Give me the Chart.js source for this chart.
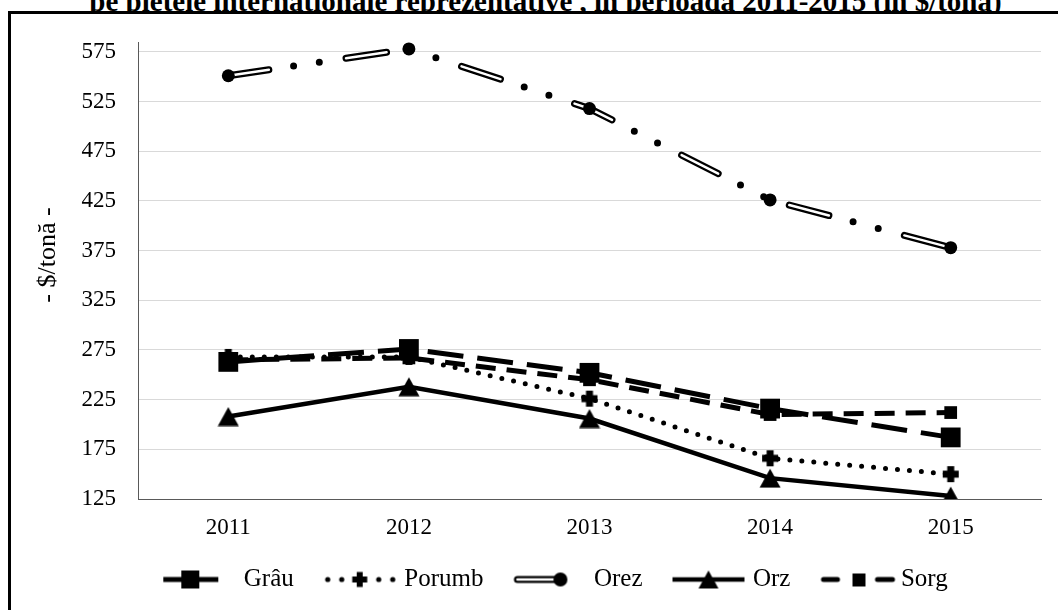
<!DOCTYPE html>
<html><head><meta charset="utf-8">
<script src="https://cdn.jsdelivr.net/npm/chart.js@4.4.0/dist/chart.umd.min.js"></script>
<style>
html,body{margin:0;padding:0;background:#fff;width:1058px;height:610px;overflow:hidden;}
#title{position:absolute;left:0;width:1091px;top:-13px;text-align:center;font:bold 29px "Liberation Serif",serif;line-height:29px;white-space:nowrap;color:#000;z-index:1;}
#box{position:absolute;left:8px;top:11px;width:1100px;height:700px;border-left:3px solid #000;border-top:3px solid #000;background:#fff;z-index:2;}
#wrap{position:absolute;left:0;top:0;width:1058px;height:610px;z-index:3;}
</style></head><body>
<div id="title">pe piețele internaționale reprezentative , în perioada 2011-2015 (în $/tonă)</div>
<div id="box"></div>
<div id="wrap"><canvas id="c" width="1058" height="610"></canvas></div>
<script>
const years = ['2011', '2012', '2013', '2014', '2015'];
const grau   = [263, 276, 252, 216, 187];
const porumb = [268, 268, 226, 166, 150];
const orez   = [551, 578, 518, 426, 378];
const orz    = [208, 238, 206, 146, 128];
const sorg   = [265, 267, 245, 210, 212];
const yTicks = [125, 175, 225, 275, 325, 375, 425, 475, 525, 575];
const seriesNames = ['Grâu', 'Porumb', 'Orez', 'Orz', 'Sorg'];
const yTitle = '- $/tonă -';

function mk(w, h, fn) { const c = document.createElement('canvas'); c.width = w; c.height = h; const x = c.getContext('2d'); x.fillStyle = '#000'; x.strokeStyle = '#000'; fn(x, w, h); return c; }
function plus(x, cx, cy, s, t) { x.fillRect(cx - t / 2, cy - s / 2, t, s); x.fillRect(cx - s / 2, cy - t / 2, s, t); }
function tri(x, cx, cy, w, h) { x.beginPath(); x.moveTo(cx, cy - h / 2); x.lineTo(cx + w / 2, cy + h / 2); x.lineTo(cx - w / 2, cy + h / 2); x.closePath(); x.fill(); }

const plusImg = mk(18, 18, (x) => plus(x, 9, 9, 16, 7));
const triImg = mk(22, 20, (x) => tri(x, 11, 10, 21, 19));

// legend sample images: 112 wide, sample content drawn at offset 32..112
const O = 32;
function leg(fn) { return mk(112, 26, (x) => { x.translate(O, 1); fn(x); }); }
const legImgs = [
  leg((x) => { x.lineWidth = 5; x.beginPath(); x.moveTo(0, 12); x.lineTo(55, 12); x.stroke(); x.fillRect(18, 3, 18, 18); }),
  leg((x) => { [4, 18, 55, 69].forEach(p => { x.beginPath(); x.arc(p, 12, 2.6, 0, 7); x.fill(); }); plus(x, 36, 12, 15, 6); }),
  leg((x) => { x.lineCap = 'round'; x.lineWidth = 7; x.beginPath(); x.moveTo(4, 12); x.lineTo(42, 12); x.stroke(); x.strokeStyle = '#fff'; x.lineWidth = 2.5; x.beginPath(); x.moveTo(4, 12); x.lineTo(42, 12); x.stroke(); x.beginPath(); x.arc(47, 12, 7, 0, 7); x.fill(); }),
  leg((x) => { x.lineWidth = 4.5; x.beginPath(); x.moveTo(0, 12); x.lineTo(72, 12); x.stroke(); tri(x, 36, 12, 20, 18); }),
  leg((x) => { x.lineWidth = 5; x.lineCap = 'round'; x.beginPath(); x.moveTo(3, 12); x.lineTo(17, 12); x.moveTo(57, 12); x.lineTo(72, 12); x.stroke(); x.fillRect(32, 6, 13, 13); })
];

Chart.defaults.font.family = '"Liberation Serif", "Times New Roman", serif';
Chart.defaults.color = '#000';

const base = { fill: false, tension: 0, borderColor: '#000', backgroundColor: '#000', pointBackgroundColor: '#000', pointBorderColor: '#000', pointBorderWidth: 0 };

const yTitlePlugin = {
  id: 'ytitle',
  afterDraw(chart) {
    const ctx = chart.ctx; ctx.save();
    ctx.translate(48, 255); ctx.rotate(-Math.PI / 2);
    ctx.font = '26px "Liberation Serif", serif'; ctx.fillStyle = '#000';
    ctx.textAlign = 'center'; ctx.textBaseline = 'middle';
    ctx.fillText(yTitle, 0, 0); ctx.restore();
  }
};

new Chart(document.getElementById('c'), {
  type: 'line',
  data: {
    labels: years,
    datasets: [
      Object.assign({}, base, { label: seriesNames[0], data: grau, borderWidth: 5, borderDash: [36, 14], borderCapStyle: 'butt', pointStyle: 'rect', pointRadius: 14, order: 0 }),
      Object.assign({}, base, { label: seriesNames[2], data: orez, showLine: false, pointStyle: 'circle', pointRadius: 6.5, order: 1 }),
      Object.assign({}, base, { label: seriesNames[2] + ' (interior)', data: orez, borderColor: '#fff', borderWidth: 2.5, borderDash: [41, 78], borderCapStyle: 'round', pointRadius: 0, order: 2 }),
      Object.assign({}, base, { label: seriesNames[2] + ' (contur)', data: orez, borderWidth: 7, borderDash: [41, 25, 0, 26, 0, 27], borderCapStyle: 'round', pointRadius: 0, order: 3 }),
      Object.assign({}, base, { label: seriesNames[1], data: porumb, borderWidth: 5, borderDash: [0, 12], borderCapStyle: 'round', pointStyle: plusImg, pointRadius: 9, order: 4 }),
      Object.assign({}, base, { label: seriesNames[3], data: orz, borderWidth: 4.5, pointStyle: triImg, pointRadius: 10, order: 5 }),
      Object.assign({}, base, { label: seriesNames[4], data: sorg, borderWidth: 5, borderDash: [20, 11], borderCapStyle: 'butt', pointStyle: 'rect', pointRadius: 9, order: 6 })
    ]
  },
  options: {
    responsive: false,
    devicePixelRatio: 1,
    animation: false,
    layout: { padding: { left: 50, right: 17, top: 42, bottom: 8 } },
    plugins: {
      tooltip: { enabled: false },
      legend: {
        position: 'bottom',
        labels: {
          usePointStyle: true,
          pointStyleWidth: 88,
          padding: 10,
          font: { size: 25 },
          color: '#000',
          generateLabels: () => seriesNames.map((n, i) => ({ text: n, pointStyle: legImgs[i], fillStyle: '#000', strokeStyle: '#000', lineWidth: 0, hidden: false, fontColor: '#000', datasetIndex: i }))
        }
      }
    },
    scales: {
      x: {
        offset: true,
        grid: { display: false, drawTicks: false, offset: true },
        border: { display: true, color: '#595959', width: 1 },
        ticks: { font: { size: 23 }, padding: 15, color: '#000' },
        afterFit: (s) => { s.height = 58; }
      },
      y: {
        min: 125, max: 585,
        grid: { color: '#d9d9d9', lineWidth: 1, drawTicks: false },
        border: { display: true, color: '#595959', width: 1 },
        ticks: { font: { size: 23 }, padding: 22, color: '#000', stepSize: 50 },
        afterBuildTicks: (s) => { s.ticks = yTicks.map(v => ({ value: v })); },
        afterFit: (s) => { s.width = 88; }
      }
    }
  },
  plugins: [yTitlePlugin]
});
</script>
</body></html>
